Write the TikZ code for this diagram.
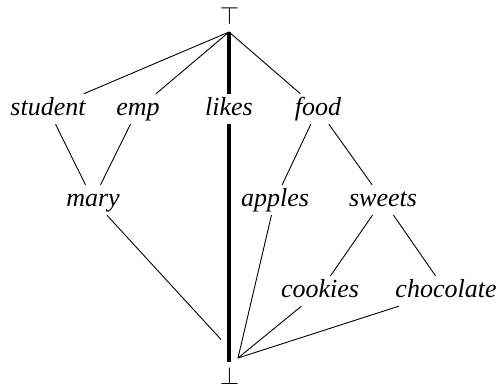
\documentclass[tikz,border=0pt]{standalone}
\usepackage{fontspec}
\newfontfamily\lblfont{Liberation Serif}
\usepackage{tikz}
\usetikzlibrary{arrows.meta,positioning,calc}
\tikzset{
  lbl/.style={font=\lblfont\itshape\fontsize{26}{30}\selectfont, text height=20pt, text depth=6pt, inner xsep=2pt, inner ysep=2pt},
  sym/.style={inner sep=0pt, font=\fontsize{24.88}{30}\selectfont},
  thinedge/.style={line width=0.9pt},
  spine/.style={line width=3.2pt}
}

\begin{document}
\begin{tikzpicture}[x=1pt,y=-1pt]
    \useasboundingbox (0,0) rectangle (501,390);
    \coordinate (o) at (0,0);
    \coordinate (topv) at ($(o)+(229,32)$);
    \coordinate (botv) at ($(o)+(229,362)$);
    \coordinate (meet) at ($(o)+(238,358)$);
    \node[lbl] (student) at ($(o)+(48,109)$) {student};
    \node[lbl] (emp) at ($(o)+(138,109)$) {emp};
    \node[lbl] (likes) at ($(o)+(229,109)$) {likes};
    \node[lbl] (food) at ($(o)+(318,109)$) {food};
    \node[lbl] (mary) at ($(o)+(93,200)$) {mary};
    \node[lbl] (apples) at ($(o)+(275,200)$) {apples};
    \node[lbl] (sweets) at ($(o)+(383,200)$) {sweets};
    \node[lbl] (cookies) at ($(o)+(320,291)$) {cookies};
    \node[lbl] (chocolate) at ($(o)+(446,291)$) {chocolate};
    \draw[spine] (topv) -- (likes) -- (botv);
    \draw[thinedge] (topv) -- (student);
    \draw[thinedge] (topv) -- (emp);
    \draw[thinedge] (topv) -- (food);
    \draw[thinedge] (student) -- (mary);
    \draw[thinedge] (emp) -- (mary);
    \draw[thinedge] (food) -- (apples);
    \draw[thinedge] (food) -- (sweets);
    \draw[thinedge] (sweets) -- (cookies);
    \draw[thinedge] (sweets) -- (chocolate);
    \draw[thinedge] (apples) -- (meet);
    \draw[thinedge] (cookies) -- (meet);
    \draw[thinedge] (chocolate) -- (meet);
    \draw[thinedge, shorten >=25pt] (mary) -- (meet);
    \node[sym] (top) at ($(o)+(229.5,15.5)$) {$\top$};
    \node[sym] (bot) at ($(o)+(229.5,375.5)$) {$\bot$};
\end{tikzpicture}
\end{document}
